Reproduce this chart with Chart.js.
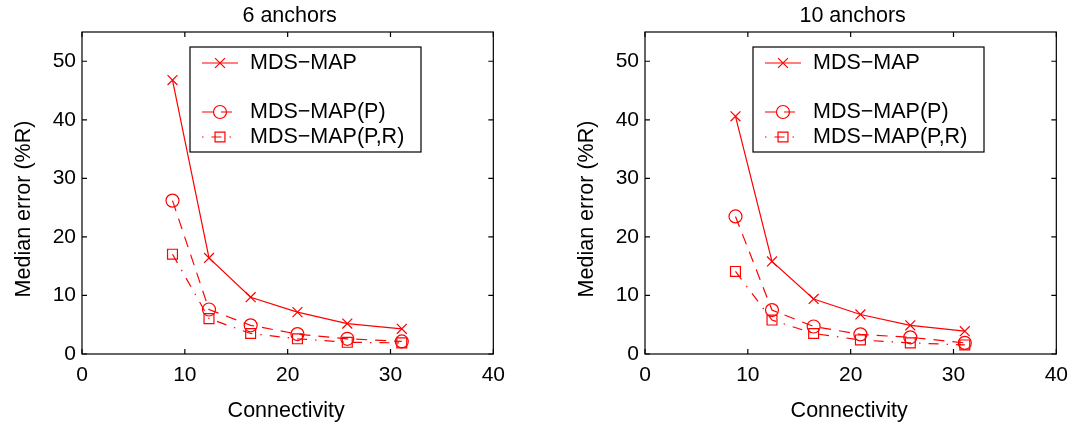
<!DOCTYPE html>
<html>
<head>
<meta charset="utf-8">
<script src="https://cdn.jsdelivr.net/npm/chart.js@4.4.0/dist/chart.umd.min.js"></script>
<style>
html, body { margin: 0; padding: 0; background: #fff; }
#wrap { position: relative; width: 1072px; height: 425px; overflow: hidden; }
.pane { position: absolute; top: 0; width: 514px; height: 425px; }
</style>
</head>
<body>
<div id="wrap">
    <div class="pane" style="left:0"><canvas id="chartA" width="514" height="425"></canvas></div>
    <div class="pane" style="left:563px"><canvas id="chartB" width="514" height="425"></canvas></div>
</div>
<script>
// Dados
const connectivity = [8.8, 12.35, 16.4, 20.95, 25.8, 31.1];

const mdsMap6   = [46.8, 16.4, 9.7, 7.15, 5.2, 4.3];
const mdsMapP6  = [26.2, 7.6, 4.9, 3.4, 2.6, 2.15];
const mdsMapPR6 = [17.05, 6.05, 3.5, 2.6, 2.0, 1.9];

const mdsMap10   = [40.6, 15.8, 9.4, 6.75, 4.9, 3.9];
const mdsMapP10  = [23.5, 7.5, 4.7, 3.35, 2.85, 1.9];
const mdsMapPR10 = [14.1, 5.8, 3.5, 2.4, 1.9, 1.55];

const seriesNames = ['MDS\u2212MAP', 'MDS\u2212MAP(P)', 'MDS\u2212MAP(P,R)'];
const xTicks = [0, 10, 20, 30, 40];
const yTicks = [0, 10, 20, 30, 40, 50];
const xTitle = 'Connectivity';
const yTitle = 'Median error (%R)';

const RED = '#ff0000';
const FONT = "'Liberation Sans', Arial, Helvetica, sans-serif";

Chart.defaults.font.family = FONT;
Chart.defaults.color = '#000';

// Estilo de cada série (linha e marcador)
const styles = [
    { dash: [], pointStyle: 'crossRot', radius: 7, legendOffset: 0 },
    { dash: [11, 8], pointStyle: 'circle', radius: 6.5, legendOffset: 0 },
    { dash: [10, 8, 1.5, 8], pointStyle: 'rect', radius: 7, legendOffset: 18 }
];

function makeDataset(i, values) {
    const s = styles[i];
    return {
        label: seriesNames[i],
        data: connectivity.map((c, k) => ({ x: c, y: values[k] })),
        showLine: true,
        borderColor: RED,
        borderWidth: 1.2,
        borderDash: s.dash,
        pointStyle: s.pointStyle,
        pointRadius: s.radius,
        pointBorderColor: RED,
        pointBackgroundColor: 'rgba(0,0,0,0)',
        pointBorderWidth: 1.2,
        tension: 0
    };
}

// Moldura, marcas internas, títulos e legenda no estilo MATLAB
const matlabBox = {
    id: 'matlabBox',
    afterDraw(chart) {
        const { ctx, chartArea: a, scales: { x, y } } = chart;
        const midX = (a.left + a.right) / 2;
        ctx.save();
        ctx.strokeStyle = '#000';
        ctx.lineWidth = 1.2;
        ctx.setLineDash([]);
        ctx.strokeRect(a.left, a.top, a.right - a.left, a.bottom - a.top);
        ctx.beginPath();
        xTicks.forEach(v => {
            const px = x.getPixelForValue(v);
            ctx.moveTo(px, a.bottom); ctx.lineTo(px, a.bottom - 5);
            ctx.moveTo(px, a.top); ctx.lineTo(px, a.top + 5);
        });
        yTicks.forEach(v => {
            const py = y.getPixelForValue(v);
            ctx.moveTo(a.left, py); ctx.lineTo(a.left + 5, py);
            ctx.moveTo(a.right, py); ctx.lineTo(a.right - 5, py);
        });
        ctx.stroke();

        // Títulos
        ctx.fillStyle = '#000';
        ctx.font = '21.5px ' + FONT;
        ctx.textAlign = 'center';
        ctx.textBaseline = 'alphabetic';
        ctx.fillText(chart.options.plugins.title.text, midX + 2, 22);
        ctx.fillText(xTitle, midX - 1.5, 417);
        ctx.save();
        ctx.translate(30, (a.top + a.bottom) / 2 + 16);
        ctx.rotate(-Math.PI / 2);
        ctx.fillText(yTitle, 0, 0);
        ctx.restore();

        // Legenda
        const lx = a.left + 108, ly = a.top + 15, lw = 231, lh = 105;
        ctx.fillStyle = '#fff';
        ctx.fillRect(lx, ly, lw, lh);
        ctx.strokeRect(lx, ly, lw, lh);
        const rows = [16, 65, 90];
        chart.data.datasets.forEach((ds, i) => {
            const ry = ly + rows[i];
            ctx.strokeStyle = RED;
            ctx.lineWidth = 1.2;
            ctx.setLineDash(ds.borderDash);
            ctx.lineDashOffset = styles[i].legendOffset;
            ctx.beginPath();
            ctx.moveTo(lx + 12, ry);
            ctx.lineTo(lx + 48, ry);
            ctx.stroke();
            ctx.setLineDash([]);
            ctx.fillStyle = 'rgba(0,0,0,0)';
            Chart.helpers.drawPoint(ctx, {
                pointStyle: ds.pointStyle,
                radius: ds.pointRadius,
                rotation: 0,
                borderWidth: 1.2
            }, lx + 30, ry);
            ctx.fillStyle = '#000';
            ctx.font = '21.5px ' + FONT;
            ctx.textBaseline = 'middle';
            ctx.textAlign = 'left';
            ctx.fillText(ds.label, lx + 60, ry);
        });
        ctx.restore();
    }
};

function createPanel(canvasId, title, a, b, c) {
    const ctx = document.getElementById(canvasId);
    new Chart(ctx, {
        type: 'scatter',
        data: {
            datasets: [makeDataset(0, a), makeDataset(1, b), makeDataset(2, c)]
        },
        options: {
            responsive: false,
            animation: false,
            layout: { padding: { left: 0, right: 0, top: 32, bottom: 0 } },
            plugins: {
                legend: { display: false },
                tooltip: { enabled: false },
                // o título é desenhado pelo plugin matlabBox, centrado nos eixos
                title: { display: false, text: title }
            },
            scales: {
                x: {
                    type: 'linear',
                    min: 0,
                    max: 40,
                    grid: { display: false, drawTicks: false },
                    border: { display: false },
                    afterBuildTicks: s => { s.ticks = xTicks.map(v => ({ value: v })); },
                    afterFit: s => { s.height = 71; },
                    ticks: { font: { size: 21 }, padding: 9, maxRotation: 0 }
                },
                y: {
                    min: 0,
                    max: 55,
                    grid: { display: false, drawTicks: false },
                    border: { display: false },
                    afterBuildTicks: s => { s.ticks = yTicks.map(v => ({ value: v })); },
                    afterFit: s => { s.width = 82; },
                    ticks: { font: { size: 21 }, padding: 6 }
                }
            }
        },
        plugins: [matlabBox]
    });
}

createPanel('chartA', '6 anchors', mdsMap6, mdsMapP6, mdsMapPR6);
createPanel('chartB', '10 anchors', mdsMap10, mdsMapP10, mdsMapPR10);
</script>
</body>
</html>
